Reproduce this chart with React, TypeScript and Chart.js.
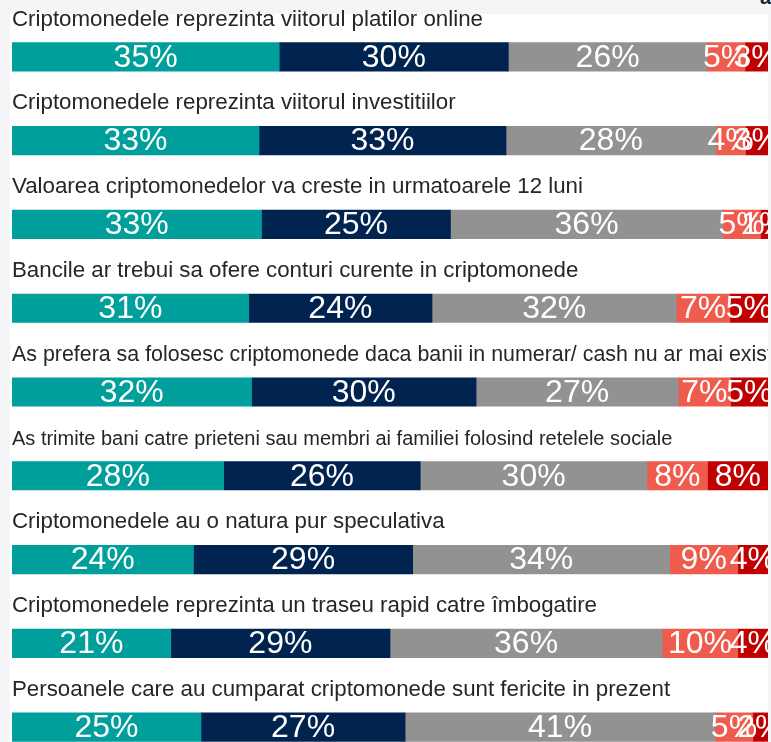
import React, { useEffect, useRef } from "react";
import { Chart, registerables } from "chart.js";
Chart.register(...registerables);

const statements = [
  "Criptomonedele reprezinta viitorul platilor online",
  "Criptomonedele reprezinta viitorul investitiilor",
  "Valoarea criptomonedelor va creste in urmatoarele 12 luni",
  "Bancile ar trebui sa ofere conturi curente in criptomonede",
  "As prefera sa folosesc criptomonede daca banii in numerar/ cash nu ar mai exista",
  "As trimite bani catre prieteni sau membri ai familiei folosind retelele sociale",
  "Criptomonedele au o natura pur speculativa",
  "Criptomonedele reprezinta un traseu rapid catre îmbogatire",
  "Persoanele care au cumparat criptomonede sunt fericite in prezent",
];
const statementFontSizes = [22.3, 22.3, 22.3, 22.3, 21.4, 20, 22.3, 22.3, 22.3];

const totalAgree = [35, 33, 33, 31, 32, 28, 24, 21, 25];
const somewhatAgree = [30, 33, 25, 24, 30, 26, 29, 29, 27];
const neutral = [26, 28, 36, 32, 27, 30, 34, 36, 41];
const somewhatDisagree = [5, 4, 5, 7, 7, 8, 9, 10, 5];
const totalDisagree = [3, 3, 1, 5, 5, 8, 4, 4, 2];

const seriesNames = ["Total de acord", "Mai degraba de acord", "Nici acord, nici dezacord", "Mai degraba dezacord", "Total dezacord"];
const seriesValues = [totalAgree, somewhatAgree, neutral, somewhatDisagree, totalDisagree];
const seriesColors = ["#009f9b", "#00234f", "#929292", "#ef5b4c", "#c00000"];

const FONT = "'Liberation Sans', Arial, sans-serif";

const labelPlugin = {
  id: "rowLabels",
  afterDatasetsDraw(chart: any) {
    const ctx = chart.ctx;
    const area = chart.chartArea;
    ctx.save();
    ctx.beginPath();
    ctx.rect(0, 0, area.right, chart.height);
    ctx.clip();
    // statement titles
    const meta0 = chart.getDatasetMeta(0);
    ctx.fillStyle = "#262626";
    ctx.textAlign = "left";
    ctx.textBaseline = "alphabetic";
    meta0.data.forEach((bar: any, i: number) => {
      const top = bar.y - bar.height / 2;
      ctx.font = statementFontSizes[i] + "px " + FONT;
      ctx.fillText(statements[i], area.left, top - 17);
    });
    // value labels
    ctx.fillStyle = "#ffffff";
    ctx.textAlign = "center";
    ctx.textBaseline = "middle";
    ctx.font = "32px " + FONT;
    chart.data.datasets.forEach((ds: any, di: number) => {
      const meta = chart.getDatasetMeta(di);
      meta.data.forEach((bar: any, i: number) => {
        const cx = (bar.x + bar.base) / 2;
        ctx.fillText(seriesValues[di][i] + "%", cx, bar.y + 1);
      });
    });
    ctx.restore();
  },
};

export default function App() {
  const ref = useRef<HTMLCanvasElement>(null);
  useEffect(() => {
    document.body.style.margin = "0";
    const rowTotals = statements.map((_, i) => seriesValues.reduce((s, arr) => s + arr[i], 0));
    const chart = new Chart(ref.current!, {
      type: "bar",
      data: {
        labels: statements,
        datasets: seriesValues.map((vals, di) => ({
          label: seriesNames[di],
          data: vals.map((v, i) => (v / rowTotals[i]) * 100),
          backgroundColor: seriesColors[di],
          borderWidth: 0,
          barThickness: 28.5,
        })),
      },
      options: {
        indexAxis: "y",
        responsive: false,
        animation: false,
        layout: { padding: { left: 12, right: 3, top: 15, bottom: 11 } },
        scales: {
          x: { stacked: true, min: 0, max: 100, display: false },
          y: { stacked: true, display: false },
        },
        plugins: { legend: { display: false }, tooltip: { enabled: false } },
      },
      plugins: [labelPlugin],
    } as any);
    return () => chart.destroy();
  }, []);

  return (
    <div style={{ position: "absolute", left: 0, top: 0, width: 771, height: 742, overflow: "hidden", background: "#f4f5f7" }}>
      <div style={{ position: "absolute", left: 10, top: 14, width: 758, height: 760, background: "#ffffff" }} />
      <div style={{ position: "absolute", right: 0, top: -14, font: "bold 20px " + FONT, color: "#222" }}>a</div>
      <canvas ref={ref} width={771} height={780} style={{ position: "absolute", left: 0, top: 0 }} />
    </div>
  );
}
